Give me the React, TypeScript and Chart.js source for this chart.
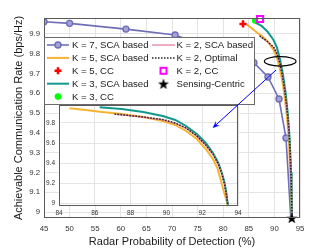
import React, { useEffect, useRef } from 'react';
import { Chart, registerables } from 'chart.js';
Chart.register(...registerables);

const FONT = "'Liberation Sans', Arial, Helvetica, sans-serif";

// ---- tick labels ----
const xTicks = [45, 50, 55, 60, 65, 70, 75, 80, 85, 90, 95];
const yTicks = [9, 9.1, 9.2, 9.3, 9.4, 9.5, 9.6, 9.7, 9.8, 9.9];
const insetXTicks = [84, 86, 88, 90, 92, 94];
const insetYTicks = [9, 9.2, 9.4, 9.6, 9.8];

// ---- series ----
const k7X = [45, 50, 61, 70.6, 86, 88.75, 90.9, 92.27, 93.2];
const k7Y = [9.961, 9.953, 9.924, 9.894, 9.754, 9.682, 9.571, 9.374, 8.97];

const k5X = [84.59, 85.5, 86.27, 87.5, 88.7, 89.8, 90.5, 91.1, 91.7, 92.2, 92.6, 92.85, 93.05, 93.2, 93.35, 93.42];
const k5Y = [9.947, 9.93, 9.913, 9.89, 9.86, 9.82, 9.78, 9.72, 9.64, 9.54, 9.44, 9.35, 9.22, 9.12, 9.03, 8.97];

const k3X = [86.27, 87.5, 88.7, 89.8, 90.5, 91.1, 91.7, 92.2, 92.6, 92.9, 93.1, 93.25, 93.35, 93.42, 93.45];
const k3Y = [9.957, 9.94, 9.91, 9.87, 9.83, 9.77, 9.69, 9.6, 9.5, 9.4, 9.3, 9.2, 9.1, 9.0, 8.97];

const k2ScaX = [87.2, 88.5, 89.8, 90.5, 91.1, 91.7, 92.2, 92.6, 92.9, 93.1, 93.25, 93.35, 93.42, 93.45];
const k2ScaY = [9.887, 9.862, 9.832, 9.797, 9.747, 9.667, 9.577, 9.487, 9.387, 9.287, 9.187, 9.087, 8.997, 8.97];

const k2OptX = [87.1, 88.5, 89.8, 90.5, 91.1, 91.7, 92.2, 92.6, 92.9, 93.1, 93.25, 93.35, 93.42, 93.45];
const k2OptY = [9.89, 9.865, 9.835, 9.8, 9.75, 9.67, 9.58, 9.49, 9.39, 9.29, 9.19, 9.09, 9.0, 8.97];

const k5CcX = [83.87];
const k5CcY = [9.95];
const k3CcX = [86.2];
const k3CcY = [9.966];
const k2CcX = [87.2];
const k2CcY = [9.975];
const scX = [93.4];
const scY = [8.97];

// annotation (data coordinates of main axes)
const ellipseC = [91.13, 9.761];
const ellipseR = [3.09, 0.0237];
const arrowFrom = [90.31, 9.717];
const arrowTo = [77.95, 9.425];

const C_K7 = '#6e6eb6';
const C_K7_FILL = '#a3a3d6';
const C_K5 = '#f6b332';
const C_K3 = '#12998c';
const C_K2 = '#e07896';
const C_OPT = '#222222';

const pts = (xs: number[], ys: number[]) => xs.map((x, i) => ({ x, y: ys[i] }));

function makeStar(R: number) {
  const c = document.createElement('canvas');
  const s = Math.ceil(R * 2 + 2);
  c.width = s; c.height = s;
  const g = c.getContext('2d')!;
  const cx = s / 2, cy = s / 2 + R * 0.1;
  g.beginPath();
  for (let i = 0; i < 10; i++) {
    const r = i % 2 === 0 ? R : R * 0.4;
    const a = -Math.PI / 2 + (i * Math.PI) / 5;
    const px = cx + r * Math.cos(a), py = cy + r * Math.sin(a);
    if (i === 0) g.moveTo(px, py); else g.lineTo(px, py);
  }
  g.closePath();
  g.fillStyle = '#000';
  g.fill();
  return c;
}

const fmtY = (v: any) => {
  const n = Number(v);
  return Number.isInteger(n) ? String(n) : n.toFixed(1);
};

export default function App() {
  const mainRef = useRef<HTMLCanvasElement>(null);
  const insetRef = useRef<HTMLCanvasElement>(null);

  useEffect(() => {
    const star = makeStar(5.8);
    const legendStar = makeStar(5.8);

    const boxPlugin = {
      id: 'box',
      afterDatasetsDraw(chart: any) {
        const { ctx, chartArea: a } = chart;
        ctx.save();
        ctx.strokeStyle = '#5a5a5a';
        ctx.lineWidth = 1;
        ctx.strokeRect(Math.round(a.left) + 0.5, Math.round(a.top) + 0.5, Math.round(a.right - a.left) - 1, Math.round(a.bottom - a.top) - 1);
        ctx.restore();
      },
    };

    const mainExtras = {
      id: 'mainExtras',
      afterDraw(chart: any) {
        const { ctx, chartArea: a, scales } = chart;
        // ellipse
        const ex = scales.x.getPixelForValue(ellipseC[0]);
        const ey = scales.y.getPixelForValue(ellipseC[1]);
        const rx = scales.x.getPixelForValue(ellipseC[0] + ellipseR[0]) - ex;
        const ry = ey - scales.y.getPixelForValue(ellipseC[1] + ellipseR[1]);
        ctx.save();
        ctx.strokeStyle = '#000';
        ctx.lineWidth = 1.2;
        ctx.beginPath();
        ctx.ellipse(ex, ey, rx, ry, 0, 0, Math.PI * 2);
        ctx.stroke();
        ctx.restore();

        // legend
        const L = a.left, T = 37, W = 210, H = 67;
        ctx.save();
        ctx.fillStyle = '#fff';
        ctx.fillRect(L, T, W, H);
        ctx.strokeStyle = '#6a6a6a';
        ctx.lineWidth = 1;
        ctx.strokeRect(L + 0.5, T + 0.5, W, H);
        ctx.font = `9.6px ${FONT}`;
        ctx.textBaseline = 'middle';
        ctx.textAlign = 'left';
        const rowY = (r: number) => T + 8 + r * 12.9;
        const col = [{ x0: L + 3, x1: L + 25, tx: L + 28 }, { x0: L + 108, x1: L + 131, tx: L + 132.5 }];
        const line = (c: number, r: number, color: string, w: number, dash?: number[]) => {
          ctx.save();
          ctx.strokeStyle = color; ctx.lineWidth = w;
          if (dash) ctx.setLineDash(dash);
          ctx.beginPath();
          ctx.moveTo(col[c].x0, rowY(r)); ctx.lineTo(col[c].x1, rowY(r));
          ctx.stroke();
          ctx.restore();
        };
        const text = (c: number, r: number, s: string) => {
          ctx.fillStyle = '#1a1a1a';
          ctx.fillText(s, col[c].tx, rowY(r) + 0.5);
        };
        const mid = (c: number) => (col[c].x0 + col[c].x1) / 2;
        // K=7
        line(0, 0, C_K7, 1.6);
        ctx.beginPath(); ctx.arc(mid(0), rowY(0), 3, 0, Math.PI * 2);
        ctx.fillStyle = C_K7_FILL; ctx.fill(); ctx.strokeStyle = C_K7; ctx.lineWidth = 1.4; ctx.stroke();
        text(0, 0, 'K = 7, SCA based');
        line(0, 1, C_K5, 2);
        text(0, 1, 'K = 5, SCA based');
        // red plus
        ctx.save(); ctx.strokeStyle = '#ff0000'; ctx.lineWidth = 2.5;
        ctx.beginPath();
        ctx.moveTo(mid(0) - 3.5, rowY(2)); ctx.lineTo(mid(0) + 3.5, rowY(2));
        ctx.moveTo(mid(0), rowY(2) - 3.5); ctx.lineTo(mid(0), rowY(2) + 3.5);
        ctx.stroke(); ctx.restore();
        text(0, 2, 'K = 5, CC');
        line(0, 3, C_K3, 2);
        text(0, 3, 'K = 3, SCA based');
        ctx.beginPath(); ctx.arc(mid(0), rowY(4), 3.3, 0, Math.PI * 2);
        ctx.fillStyle = '#00ff00'; ctx.fill();
        text(0, 4, 'K = 3, CC');
        line(1, 0, C_K2, 1.2);
        text(1, 0, 'K = 2, SCA based');
        line(1, 1, C_OPT, 1.5, [1.5, 1.5]);
        text(1, 1, 'K = 2, Optimal');
        ctx.save(); ctx.strokeStyle = '#ff00ff'; ctx.lineWidth = 2; ctx.fillStyle = '#fff';
        ctx.fillRect(mid(1) - 3, rowY(2) - 3, 6, 6);
        ctx.strokeRect(mid(1) - 3, rowY(2) - 3, 6, 6); ctx.restore();
        text(1, 2, 'K = 2, CC');
        ctx.drawImage(legendStar, mid(1) - legendStar.width / 2, rowY(3) - legendStar.height / 2);
        text(1, 3, 'Sensing-Centric');
        ctx.restore();
      },
    };

    const lineDs = (label: string, data: any[], color: string, width: number, extra: any = {}) => ({
      label, data, showLine: true, borderColor: color, backgroundColor: color, borderWidth: width,
      pointRadius: 0, pointHoverRadius: 0, ...extra,
    });

    const main = new Chart(mainRef.current!, {
      type: 'scatter',
      data: {
        datasets: [
          lineDs('K = 7, SCA based', pts(k7X, k7Y), C_K7, 1.6, {
            pointRadius: k7X.map((_, i) => (i === k7X.length - 1 ? 0 : 3)),
            pointBackgroundColor: C_K7_FILL, pointBorderColor: C_K7, pointBorderWidth: 1.4, order: 0,
          }),
          lineDs('K = 5, SCA based', pts(k5X, k5Y), C_K5, 2, { order: -1 }),
          { label: 'K = 5, CC', data: pts(k5CcX, k5CcY), pointStyle: 'cross', pointRadius: 3.6, borderColor: '#ff0000', borderWidth: 2.5, clip: false, order: -2 },
          lineDs('K = 3, SCA based', pts(k3X, k3Y), C_K3, 2, { order: -3 }),
          { label: 'K = 3, CC', data: pts(k3CcX, k3CcY), pointStyle: 'circle', pointRadius: 3, backgroundColor: '#00ff00', borderColor: '#00ff00', borderWidth: 0, clip: false, order: -4 },
          lineDs('K = 2, SCA based', pts(k2ScaX, k2ScaY), C_K2, 1.2, { order: -5 }),
          lineDs('K = 2, Optimal', pts(k2OptX, k2OptY), C_OPT, 1.5, { borderDash: [1.5, 1.5], order: -6 }),
          { label: 'K = 2, CC', data: pts(k2CcX, k2CcY), pointStyle: 'rect', pointRadius: 4.3, backgroundColor: '#ffffff', borderColor: '#ff00ff', borderWidth: 2, clip: false, order: -7 },
          { label: 'Sensing-Centric', data: pts(scX, scY), pointStyle: star as any, pointRadius: 5, clip: false, order: -8 },
        ] as any,
      },
      options: {
        animation: false,
        responsive: false,
        maintainAspectRatio: false,
        events: [],
        layout: { padding: { left: 0, right: 32, top: 18, bottom: 0 } },
        plugins: { legend: { display: false }, tooltip: { enabled: false } },
        scales: {
          x: {
            type: 'linear', min: 45, max: 95,
            afterBuildTicks: (s: any) => { s.ticks = xTicks.map((v) => ({ value: v })); },
            afterFit: (s: any) => { s.height = 31; },
            grid: { color: '#e4e4e4', drawTicks: false, lineWidth: 1 },
            border: { display: false },
            ticks: { font: { family: FONT, size: 7.8 }, color: '#333', padding: 6, maxRotation: 0, autoSkip: false, callback: (v: any) => String(v) },
            title: { display: true, text: 'Radar Probability of Detection (%)', font: { family: FONT, size: 11 }, color: '#1a1a1a', padding: { top: 0, bottom: 0.7 } },
          },
          y: {
            type: 'linear', min: 8.97, max: 9.98,
            afterBuildTicks: (s: any) => { s.ticks = yTicks.map((v) => ({ value: v })); },
            afterFit: (s: any) => { s.width = 44; },
            grid: { color: '#e4e4e4', drawTicks: false, lineWidth: 1 },
            border: { display: false },
            ticks: { font: { family: FONT, size: 7.8 }, color: '#333', padding: 4, autoSkip: false, callback: fmtY },
            title: { display: true, text: 'Achievable Communication Rate (bps/Hz)', font: { family: FONT, size: 11 }, color: '#1a1a1a', padding: { top: 12.4, bottom: 0 } },
          },
        },
      } as any,
      plugins: [boxPlugin, mainExtras],
    });

    const insetBg = {
      id: 'insetBg',
      beforeDraw(chart: any) {
        const { ctx, chartArea: a } = chart;
        ctx.save();
        ctx.fillStyle = '#fff';
        ctx.fillRect(a.left, a.top, a.right - a.left, a.bottom - a.top);
        ctx.restore();
      },
    };
    const arrowPlugin = {
      id: 'arrow',
      afterDraw(chart: any) {
        const { ctx } = chart;
        const sx = main.scales.x, sy = main.scales.y;
        const x1 = sx.getPixelForValue(arrowFrom[0]), y1 = sy.getPixelForValue(arrowFrom[1]);
        const x2 = sx.getPixelForValue(arrowTo[0]), y2 = sy.getPixelForValue(arrowTo[1]);
        const ang = Math.atan2(y2 - y1, x2 - x1);
        const len = 7, hw = 3;
        ctx.save();
        ctx.strokeStyle = '#0000ff';
        ctx.fillStyle = '#0000ff';
        ctx.lineWidth = 1;
        ctx.beginPath();
        ctx.moveTo(x1, y1);
        ctx.lineTo(x2 - Math.cos(ang) * len * 0.6, y2 - Math.sin(ang) * len * 0.6);
        ctx.stroke();
        const bx = x2 - Math.cos(ang) * len, by = y2 - Math.sin(ang) * len;
        const nx = -Math.sin(ang), ny = Math.cos(ang);
        ctx.beginPath();
        ctx.moveTo(x2, y2);
        ctx.lineTo(bx + nx * hw, by + ny * hw);
        ctx.lineTo(x2 - Math.cos(ang) * len * 0.6, y2 - Math.sin(ang) * len * 0.6);
        ctx.lineTo(bx - nx * hw, by - ny * hw);
        ctx.closePath();
        ctx.fill();
        ctx.restore();
      },
    };

    const inset = new Chart(insetRef.current!, {
      type: 'scatter',
      data: {
        datasets: [
          lineDs('K = 5, SCA based', pts(k5X, k5Y), C_K5, 2, { order: -1 }),
          lineDs('K = 3, SCA based', pts(k3X, k3Y), C_K3, 2, { order: -3 }),
          lineDs('K = 2, SCA based', pts(k2ScaX, k2ScaY), C_K2, 1.2, { order: -5 }),
          lineDs('K = 2, Optimal', pts(k2OptX, k2OptY), C_OPT, 1.5, { borderDash: [1.5, 1.5], order: -6 }),
        ] as any,
      },
      options: {
        animation: false,
        responsive: false,
        maintainAspectRatio: false,
        events: [],
        layout: { padding: { left: 39, right: 94, top: 105, bottom: 31 } },
        plugins: { legend: { display: false }, tooltip: { enabled: false } },
        scales: {
          x: {
            type: 'linear', min: 84, max: 94,
            afterBuildTicks: (s: any) => { s.ticks = insetXTicks.map((v) => ({ value: v })); },
            afterFit: (s: any) => { s.height = 12; },
            grid: { color: '#e4e4e4', drawTicks: false },
            border: { display: false },
            ticks: { font: { family: FONT, size: 6.5 }, color: '#333', padding: 3, maxRotation: 0, autoSkip: false, callback: (v: any) => String(v) },
          },
          y: {
            type: 'linear', min: 8.97, max: 9.98,
            afterBuildTicks: (s: any) => { s.ticks = insetYTicks.map((v) => ({ value: v })); },
            afterFit: (s: any) => { s.width = 20; },
            grid: { color: '#e4e4e4', drawTicks: false },
            border: { display: false },
            ticks: { font: { family: FONT, size: 6.5 }, color: '#333', padding: 4, autoSkip: false, callback: fmtY },
          },
        },
      } as any,
      plugins: [insetBg, boxPlugin, arrowPlugin],
    });

    return () => {
      inset.destroy();
      main.destroy();
    };
  }, []);

  return (
    <div style={{ position: 'absolute', left: 0, top: 0, width: 332, height: 249, background: '#fff' }}>
      <canvas ref={mainRef} width={332} height={249} style={{ position: 'absolute', left: 0, top: 0, width: 332, height: 249 }} />
      <canvas ref={insetRef} width={332} height={249} style={{ position: 'absolute', left: 0, top: 0, width: 332, height: 249 }} />
    </div>
  );
}
